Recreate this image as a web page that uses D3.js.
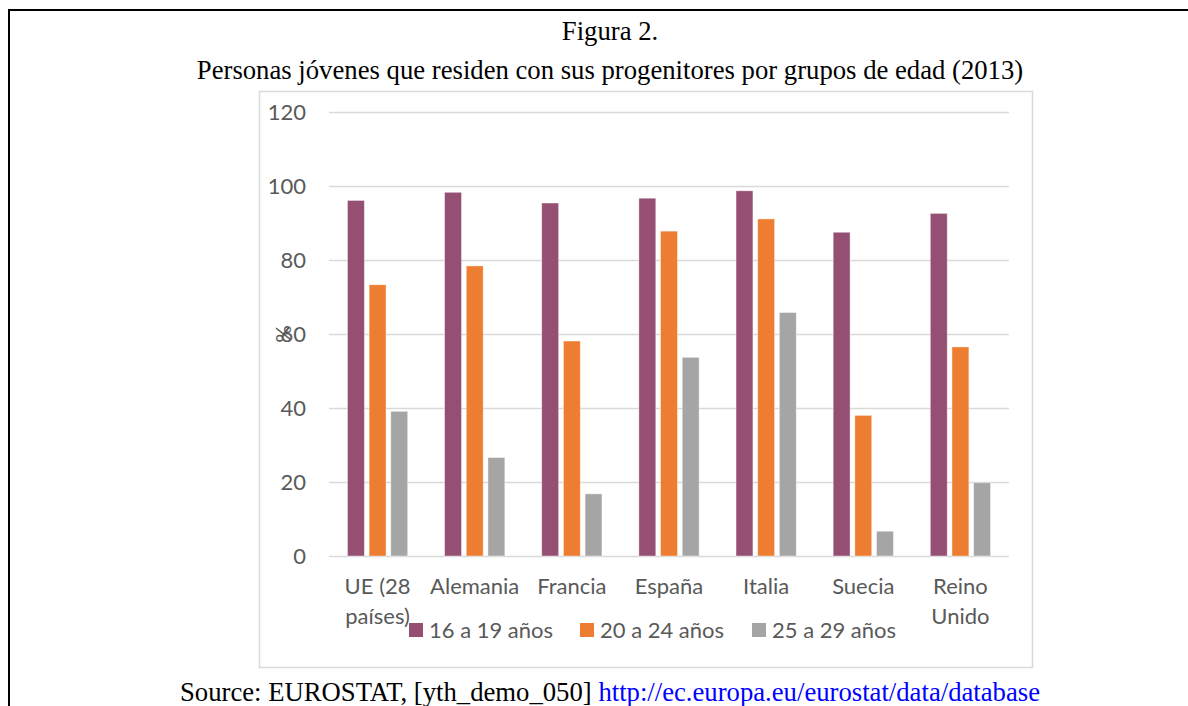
<!DOCTYPE html>
<html>
<head>
<meta charset="utf-8">
<script src="https://cdn.jsdelivr.net/npm/d3@7/dist/d3.min.js"></script>
<style>
  html, body { margin: 0; padding: 0; background: #fff; }
  svg { display: block; }
</style>
</head>
<body>
<svg id="chart" width="1188" height="706"></svg>
<script>
// ---- data ----
const categories = ["UE (28 países)", "Alemania", "Francia", "España", "Italia", "Suecia", "Reino Unido"];
const seriesNames = ["16 a 19 años", "20 a 24 años", "25 a 29 años"];
const values16_19 = [96.1, 98.3, 95.4, 96.7, 98.7, 87.5, 92.6];
const values20_24 = [73.3, 78.4, 58.1, 87.8, 91.1, 38.0, 56.5];
const values25_29 = [39.1, 26.6, 16.8, 53.7, 65.8, 6.7, 19.8];
const yTicks = [0, 20, 40, 60, 80, 100, 120];
const colors = ["#954F72", "#ED7D31", "#A5A5A5"];

const seriesValues = [values16_19, values20_24, values25_29];

const svg = d3.select("#chart");
const W = 1188, H = 706;

// outer document frame (left and top)
svg.append("path")
  .attr("d", `M9,${H} L9,10 L${W},10`)
  .attr("fill", "none").attr("stroke", "#000").attr("stroke-width", 2);

// titles
const serif = "'Liberation Serif', 'Times New Roman', serif";
svg.append("text").attr("x", 610).attr("y", 40).attr("text-anchor", "middle")
  .style("font-family", serif).style("font-size", "26.7px").text("Figura 2.");
svg.append("text").attr("x", 610).attr("y", 79).attr("text-anchor", "middle")
  .style("font-family", serif).style("font-size", "26.7px")
  .text("Personas jóvenes que residen con sus progenitores por grupos de edad (2013)");

// chart area border
svg.append("rect").attr("x", 259.5).attr("y", 91.5).attr("width", 773).attr("height", 576)
  .attr("fill", "none").attr("stroke", "#d9d9d9").attr("stroke-width", 1.5);

// scales
const plot = { left: 329, right: 1009, top: 112, bottom: 556 };
const x0 = d3.scaleBand().domain(categories).range([plot.left, plot.right]).paddingInner(0.38).paddingOuter(0.19);
const x1 = d3.scaleBand().domain(seriesNames).range([0, x0.bandwidth()]).paddingInner(0.22);
const y = d3.scaleLinear().domain([0, 120]).range([plot.bottom, plot.top]);

const sans = "Lato, 'Open Sans', sans-serif";
const textColor = "#595959";
const fs = "22px";

// gridlines + y axis
const yAxis = d3.axisLeft(y).tickValues(yTicks).tickSize(0).tickPadding(23);
const gy = svg.append("g").attr("transform", `translate(${plot.left},0)`).call(yAxis);
gy.select(".domain").remove();
gy.selectAll("text").style("font-family", sans).style("font-size", fs).attr("fill", textColor);

const grid = d3.axisLeft(y).tickValues(yTicks).tickSize(-(plot.right - plot.left)).tickFormat("");
const gg = svg.append("g").attr("transform", `translate(${plot.left},0)`).call(grid);
gg.select(".domain").remove();
gg.selectAll("line").attr("stroke", "#d9d9d9").attr("stroke-width", 1.5);

// y axis title
svg.append("text").attr("transform", `translate(283,334) rotate(-90)`)
  .attr("text-anchor", "middle").attr("dy", "0.35em")
  .style("font-family", sans).style("font-size", fs).attr("fill", textColor).text("%");

// bars
const groups = svg.append("g").selectAll("g").data(categories).join("g")
  .attr("transform", d => `translate(${x0(d)},0)`);
groups.selectAll("rect").data((d, i) => seriesNames.map((s, k) => ({ s, k, v: seriesValues[k][i] })))
  .join("rect")
  .attr("x", d => x1(d.s))
  .attr("width", x1.bandwidth())
  .attr("y", d => y(d.v))
  .attr("height", d => y(0) - y(d.v))
  .attr("fill", d => colors[d.k])
  .attr("stroke", "#fff").attr("stroke-opacity", 0.5).attr("stroke-width", 0.8);

// x axis labels with wrapping
const xAxis = d3.axisBottom(x0).tickSize(0).tickPadding(0);
const gx = svg.append("g").attr("transform", `translate(0,${plot.bottom})`).call(xAxis);
gx.select(".domain").remove();
gx.selectAll("text").style("font-family", sans).style("font-size", fs).attr("fill", textColor)
  .attr("dy", null).attr("y", 38)
  .each(function(d) {
    const t = d3.select(this);
    const words = d.split(" ");
    t.text(null);
    let line = [], lineNo = 0;
    let tspan = t.append("tspan").attr("x", 0).attr("y", 38);
    for (const w of words) {
      line.push(w);
      tspan.text(line.join(" "));
      if (tspan.node().getComputedTextLength() > x0.step() - 4 && line.length > 1) {
        line.pop();
        tspan.text(line.join(" "));
        line = [w];
        lineNo++;
        tspan = t.append("tspan").attr("x", 0).attr("y", 38 + lineNo * 30).text(w);
      }
    }
  });

// legend
const legendX = [409, 580, 752];
const lg = svg.append("g").selectAll("g").data(seriesNames).join("g")
  .attr("transform", (d, i) => `translate(${legendX[i]},623)`);
lg.append("rect").attr("width", 14).attr("height", 14).attr("fill", (d, i) => colors[i]);
lg.append("text").attr("x", 20).attr("y", 14.5).style("font-family", sans).style("font-size", fs)
  .attr("fill", textColor).text(d => d);

// source
const src = svg.append("text").attr("x", 610).attr("y", 701).attr("text-anchor", "middle")
  .style("font-family", serif).style("font-size", "26.7px");
src.append("tspan").attr("fill", "#000").text("Source: EUROSTAT, [yth_demo_050] ");
src.append("tspan").attr("fill", "#0000FF").text("http://ec.europa.eu/eurostat/data/database");
</script>
</body>
</html>
